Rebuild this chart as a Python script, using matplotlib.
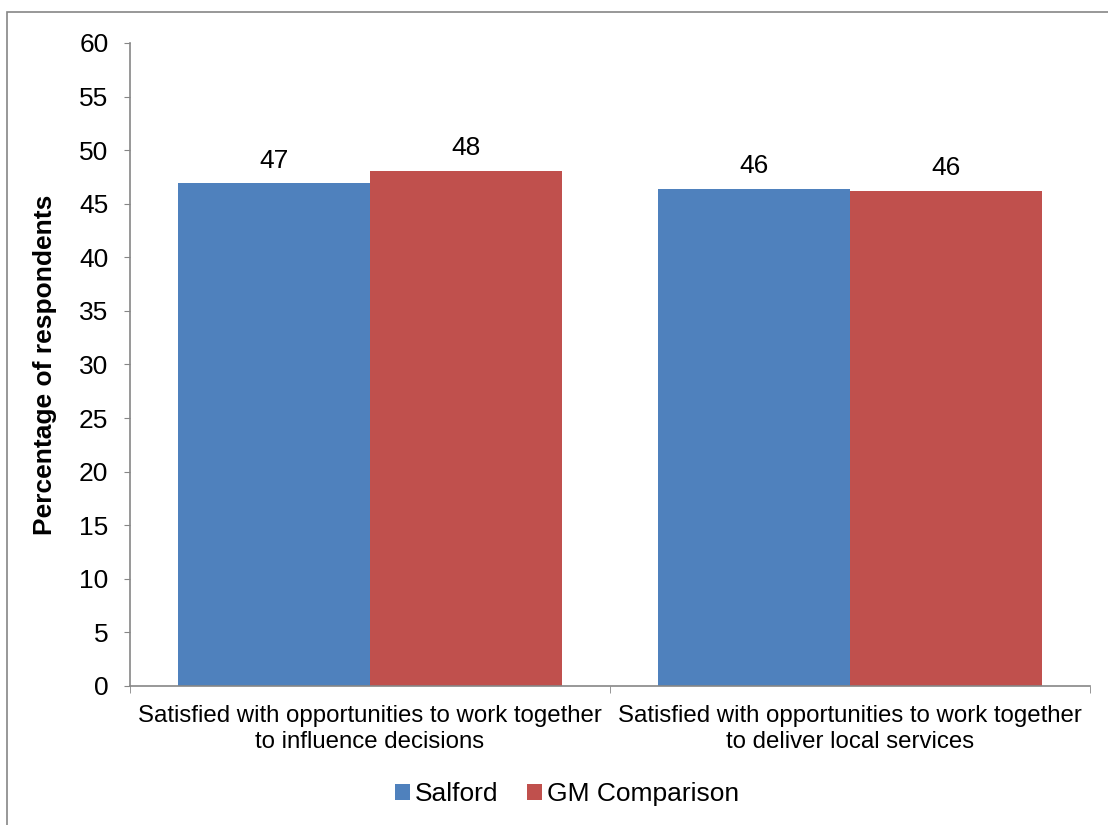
import matplotlib
matplotlib.use("Agg")
import matplotlib.pyplot as plt
import numpy as np
from matplotlib.patches import Rectangle

plt.rcParams['font.family'] = ['Liberation Sans', 'DejaVu Sans']

categories = ["Satisfied with opportunities to work together\nto influence decisions",
              "Satisfied with opportunities to work together\nto deliver local services"]
salford = [46.9, 46.4]
gm = [48.1, 46.2]
series_names = ["Salford", "GM Comparison"]
colors = ["#4F81BD", "#C0504D"]

fs = 19

fig = plt.figure(figsize=(11.08, 8.25), dpi=100)
ax = fig.add_axes([0.1173, 0.1685, 0.8665, 0.7794])

x = np.arange(len(categories))
w = 0.4
b1 = ax.bar(x - w/2, salford, w, color=colors[0], label=series_names[0])
b2 = ax.bar(x + w/2, gm, w, color=colors[1], label=series_names[1])

# value labels above bars
for bars in (b1, b2):
    for r in bars:
        h = r.get_height()
        ax.text(r.get_x() + r.get_width()/2, h + 1.0, "%d" % round(h),
                ha='center', va='bottom', fontsize=fs)

ax.set_xlim(-0.5, 1.5)
ax.set_ylim(0, 60)
ax.set_yticks(np.arange(0, 61, 5))
ax.tick_params(axis='y', labelsize=fs, length=4.5, color='#868686', pad=11)
ax.set_xticks(x)
ax.set_xticklabels(categories, fontsize=17.3, linespacing=1.2)
ax.tick_params(axis='x', length=0, pad=14)
ax.set_xticks([-0.5, 0.5, 1.5], minor=True)
ax.tick_params(axis='x', which='minor', length=5, color='#868686')
for s in ['top', 'right']:
    ax.spines[s].set_visible(False)
for s in ['left', 'bottom']:
    ax.spines[s].set_color('#868686')
    ax.spines[s].set_linewidth(1.2)

ax.set_ylabel("Percentage of respondents", fontsize=fs, fontweight='bold', labelpad=16)

fig.legend(handles=[b1, b2], labels=series_names, loc='center', bbox_to_anchor=(0.512, 0.037),
           ncol=2, frameon=False, fontsize=fs, handlelength=0.55, handleheight=0.55,
           handletextpad=0.2, columnspacing=1.1)

# outer chart border
fig.patches.append(Rectangle((7/1108, -0.1), 1.2, 1 - 12/825 + 0.1, transform=fig.transFigure,
                             fill=False, edgecolor='#868686', linewidth=1.2))

fig.savefig("out.png", dpi=100)
